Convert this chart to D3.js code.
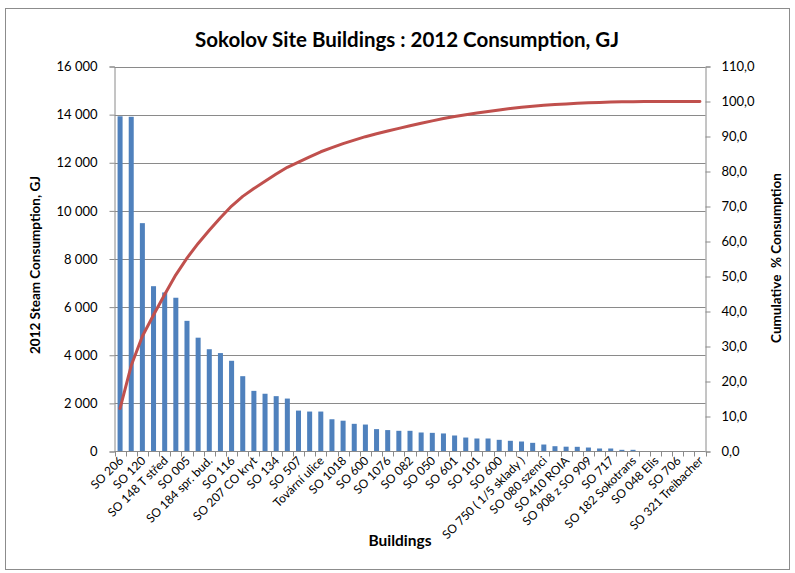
<!DOCTYPE html>
<html>
<head>
<meta charset="utf-8">
<script src="https://cdn.jsdelivr.net/npm/d3@7"></script>
<style>
  html, body { margin: 0; padding: 0; background: #fff; }
  svg { display: block; font-family: Lato, "Open Sans", sans-serif; }
</style>
</head>
<body>
<svg id="chart" width="795" height="573"></svg>
<script>
// Buildings in descending order of 2012 steam consumption (every other one is labelled on the axis)
const buildings = [
  "SO 206", "", "SO 120", "", "SO 148 T střed", "", "SO 005", "", "SO 184 spr. bud.", "",
  "SO 116", "", "SO 207 CO kryt", "", "SO 134", "", "SO 507", "", "Tovární ulice", "",
  "SO 1018", "", "SO 600", "", "SO 1076", "", "SO 082", "", "SO 050", "",
  "SO 601", "", "SO 101", "", "SO 600", "", "SO 750 ( 1/5 sklady )", "", "SO 080 szenci", "",
  "SO 410 ROIA", "", "SO 908 z SO 909", "", "SO 717", "", "SO 182 Sokotrans", "", "SO 048 Elis", "",
  "SO 706", "", "SO 321 Treibacher"
];

// 2012 steam consumption per building, GJ
const consumption = [
  13930, 13910, 9490, 6870, 6610, 6390, 5430, 4730, 4250, 4090,
  3770, 3130, 2520, 2400, 2300, 2200, 1700, 1660, 1660, 1340,
  1280, 1150, 1120, 930, 890, 860, 860, 790, 775, 750,
  665, 580, 540, 540, 485, 445, 415, 360, 290, 220,
  200, 195, 165, 125, 125, 70, 70, 15, 10, 8,
  5, 3, 2
];

const leftTicks = [0, 2000, 4000, 6000, 8000, 10000, 12000, 14000, 16000];
const rightTicks = [0, 10, 20, 30, 40, 50, 60, 70, 80, 90, 100, 110];

const svg = d3.select("#chart");
const L = 114.5, R = 705.5, T = 66.5, B = 451.5;

const idx = d3.range(consumption.length);
const x = d3.scaleBand().domain(idx).range([L, R]).paddingInner(0.55).paddingOuter(0.275);
const y = d3.scaleLinear().domain([0, 16000]).range([B, T]);
const y2 = d3.scaleLinear().domain([0, 110]).range([B, T]);

const total = d3.sum(consumption);
const cumulative = Array.from(d3.cumsum(consumption), v => v / total * 100);

const gridColor = "#8a8a8a";
const numFmt = v => d3.format(",")(v).replace(/,/g, " ");
const pctFmt = v => d3.format(".1f")(v).replace(".", ",");

// outer frame
svg.append("rect").attr("x", 5.5).attr("y", 8.5).attr("width", 784).attr("height", 561)
  .attr("fill", "none").attr("stroke", "#8c8c8c");

// title
svg.append("text").attr("x", 407).attr("y", 47).attr("text-anchor", "middle")
  .attr("font-size", 20.5).attr("font-weight", "bold").attr("fill", "#000")
  .text("Sokolov Site Buildings : 2012 Consumption, GJ");

// horizontal gridlines
svg.append("g").selectAll("line").data(leftTicks.filter(d => d > 0)).join("line")
  .attr("x1", L).attr("x2", R)
  .attr("y1", d => Math.round(y(d)) + 0.5).attr("y2", d => Math.round(y(d)) + 0.5)
  .attr("stroke", gridColor);

// left axis
const gl = svg.append("g").attr("transform", `translate(${L},0)`)
  .call(d3.axisLeft(y).tickValues(leftTicks).tickFormat(numFmt).tickSize(5).tickPadding(12));
gl.select(".domain").attr("stroke", gridColor);
gl.selectAll(".tick line").attr("stroke", gridColor);
gl.selectAll(".tick text").attr("font-size", 13).attr("fill", "#000").attr("font-family", "Lato");

// right axis
const gr = svg.append("g").attr("transform", `translate(${R},0)`)
  .call(d3.axisRight(y2).tickValues(rightTicks).tickFormat(pctFmt).tickSize(5).tickPadding(11));
gr.select(".domain").attr("stroke", gridColor);
gr.selectAll(".tick line").attr("stroke", gridColor);
gr.selectAll(".tick text").attr("font-size", 13).attr("fill", "#000").attr("font-family", "Lato");

// bars
svg.append("g").selectAll("rect").data(consumption).join("rect")
  .attr("x", (d, i) => x(i)).attr("width", x.bandwidth())
  .attr("y", d => y(d)).attr("height", d => B - y(d))
  .attr("fill", "#4f81bd");

// bottom axis with ticks between categories
const step = x.step();
const bounds = d3.range(consumption.length + 1).map(i => x(0) - step * x.paddingInner() / 2 + i * step);
svg.append("line").attr("x1", L).attr("x2", R).attr("y1", B).attr("y2", B).attr("stroke", gridColor);
svg.append("g").selectAll("line").data(bounds).join("line")
  .attr("x1", d => Math.round(d) + 0.5).attr("x2", d => Math.round(d) + 0.5)
  .attr("y1", B).attr("y2", B + 5).attr("stroke", gridColor);

// category labels
svg.append("g").selectAll("text").data(idx.filter(i => buildings[i])).join("text")
  .attr("transform", i => `translate(${x(i) + x.bandwidth() / 2 + 4},${B + 10}) rotate(-45)`)
  .attr("text-anchor", "end").attr("font-size", 12).attr("fill", "#000")
  .text(i => buildings[i]);

// cumulative percentage line
const line = d3.line().x((d, i) => x(i) + x.bandwidth() / 2).y(d => y2(d));
svg.append("path").datum(cumulative).attr("d", line)
  .attr("fill", "none").attr("stroke", "#c0504d").attr("stroke-width", 3)
  .attr("stroke-linejoin", "round").attr("stroke-linecap", "round");

// axis titles
svg.append("text").attr("transform", "translate(40,265) rotate(-90)").attr("text-anchor", "middle")
  .attr("font-size", 13.5).attr("font-weight", "bold").attr("fill", "#000")
  .text("2012 Steam Consumption, GJ");
svg.append("text").attr("transform", "translate(781,258) rotate(-90)").attr("text-anchor", "middle")
  .attr("font-size", 13.5).attr("font-weight", "bold").attr("fill", "#000")
  .style("white-space", "pre")
  .text("Cumulative  % Consumption");
svg.append("text").attr("x", 400).attr("y", 546).attr("text-anchor", "middle")
  .attr("font-size", 15.5).attr("font-weight", "bold").attr("fill", "#000")
  .text("Buildings");
</script>
</body>
</html>
